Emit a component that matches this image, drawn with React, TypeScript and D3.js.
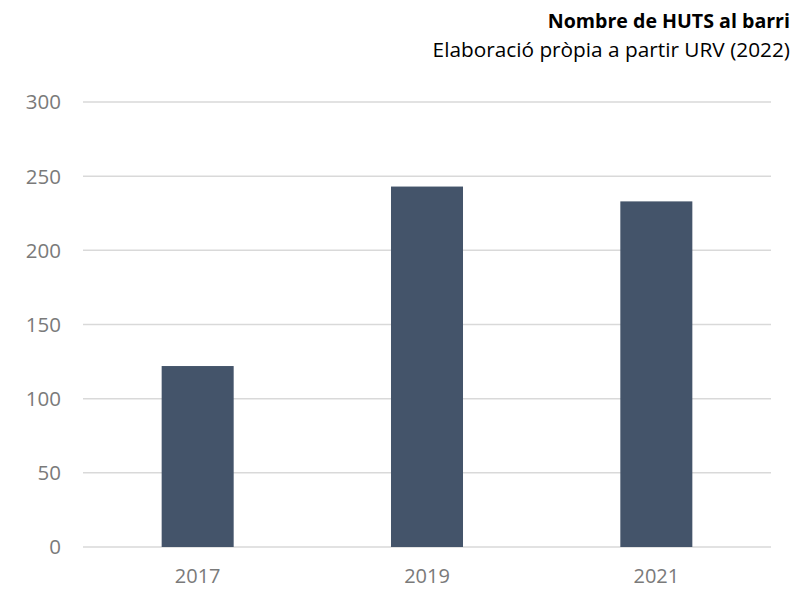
import React from "react";
import * as d3 from "d3";

const categories = ["2017", "2019", "2021"];
const values = [122, 243, 233];
const yTicks = [0, 50, 100, 150, 200, 250, 300];
const title = "Nombre de HUTS al barri";
const subtitle = "Elaboració pròpia a partir URV (2022)";

export default function App() {
  const W = 799, H = 589;
  const left = 83, right = 771, top = 102, bottom = 547;
  const x = d3.scaleBand<string>().domain(categories).range([left, right]).paddingInner(0.686).paddingOuter(0.343);
  const y = d3.scaleLinear().domain([0, 300]).range([bottom, top]);
  const font = "'Open Sans', sans-serif";
  return (
    <svg width={W} height={H} style={{ position: "absolute", left: 0, top: 0, background: "#fff" }} fontFamily={font}>
      <text x={790} y={28} textAnchor="end" fontSize={19.6} fontWeight="bold" fill="#000">{title}</text>
      <text x={790} y={57} textAnchor="end" fontSize={20.8} fill="#000">{subtitle}</text>
      {yTicks.map((t) => (
        <g key={t}>
          <line x1={left} x2={right} y1={y(t)} y2={y(t)} stroke="#d9d9d9" strokeWidth={1.5} />
          <text x={61} y={y(t)} dy="0.36em" textAnchor="end" fontSize={20.5} fill="#7a7a7a">{t}</text>
        </g>
      ))}
      {categories.map((c, i) => (
        <g key={c}>
          <rect x={x(c)} y={y(values[i])} width={x.bandwidth()} height={y(0) - y(values[i])} fill="#44546a" />
          <text x={(x(c) as number) + x.bandwidth() / 2} y={583} textAnchor="middle" fontSize={20} fill="#7a7a7a">{c}</text>
        </g>
      ))}
    </svg>
  );
}
